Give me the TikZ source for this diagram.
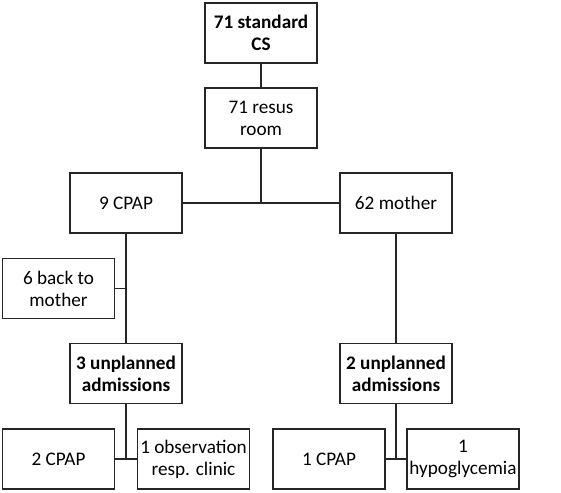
\documentclass[tikz,border=0pt]{standalone}
\usepackage{fontspec}
\setmainfont{Carlito}
\usetikzlibrary{calc,positioning}
\tikzset{box/.style={draw=black!85, line width=1.1pt, minimum width=112pt, minimum height=60pt, inner sep=0pt, align=center, font=\fontsize{19.2}{22}\selectfont},
  link/.style={draw=black!85, line width=1.1pt}}
\begin{document}
\begin{tikzpicture}[x=1pt,y=-1pt]
          \useasboundingbox (0,0) rectangle (561,492);
          \node[box] (cs) at (261,33) {\textbf{71 standard}\\\textbf{CS}};
          \node[box] (resus) at (261,118) {71 resus\\room};
          \node[box] (cpap) at (126,203) {9 CPAP};
          \node[box] (mother) at (396,203) {62 mother};
          \node[box] (back) at (58.5,288.5) {6 back to\\mother};
          \node[box] (admL) at (126,373.5) {\textbf{3 unplanned}\\\textbf{admissions}};
          \node[box] (admR) at (396,373.5) {\textbf{2 unplanned}\\\textbf{admissions}};
          \node[box] (cpapL) at (58.5,459) {2 CPAP};
          \node[box] (obs) at (193.5,459) {1 observation\\resp. clinic};
          \node[box] (cpapR) at (329,459) {1 CPAP};
          \node[box] (hypo) at (463,459) {1\\hypoglycemia};
          \coordinate (split) at (resus.south |- cpap.east);
          \draw[link] (cs) -- (resus);
          \draw[link] (resus) -- (split);
          \draw[link] (cpap) -- (mother);
          \draw[link] (cpap) -- (admL);
          \draw[link] (mother) -- (admR);
          \draw[link] (back.east) -- (back.east -| cpap.south);
          \draw[link] (admL.south) -- (admL.south |- cpapL.east);
          \draw[link] (cpapL) -- (obs);
          \draw[link] (admR.south) -- (admR.south |- cpapR.east);
          \draw[link] (cpapR) -- (hypo);
      \end{tikzpicture}
\end{document}
